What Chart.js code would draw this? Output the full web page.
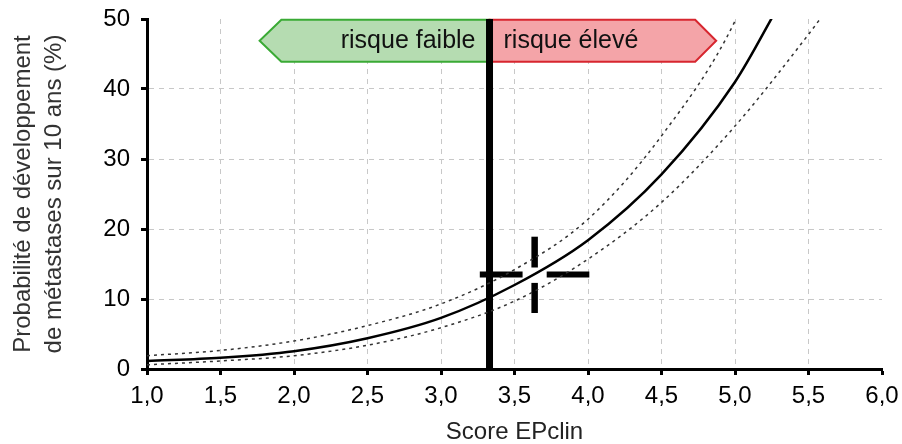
<!DOCTYPE html>
<html>
<head>
<meta charset="utf-8">
<script src="https://cdn.jsdelivr.net/npm/chart.js@4.4.1/dist/chart.umd.min.js"></script>
<style>
  html, body { margin: 0; padding: 0; background: #fff; }
  #wrap { width: 902px; height: 444px; }
</style>
</head>
<body>
<div id="wrap"><canvas id="c" width="902" height="444"></canvas></div>
<script>
// valeurs
let xTicks = ["1,0","1,5","2,0","2,5","3,0","3,5","4,0","4,5","5,0","5,5","6,0"];
let yTicks = ["0","10","20","30","40","50"];

let solidX = [1.0, 1.5, 2.0, 2.5, 3.0, 3.5, 4.0, 4.5, 5.0, 5.3];
let solidY = [1.15, 1.6, 2.55, 4.4, 7.3, 12.0, 18.4, 27.8, 41.0, 52];

let upperX = [1.0, 1.5, 2.0, 2.5, 3.0, 3.5, 4.0, 4.5, 5.0, 5.1];
let upperY = [1.9, 2.65, 4.0, 6.2, 9.3, 14.2, 21.4, 33.3, 49.7, 55];

let lowerX = [1.0, 1.5, 2.0, 2.5, 3.0, 3.5, 4.0, 4.5, 5.0, 5.5, 5.6];
let lowerY = [0.6, 1.15, 1.9, 3.4, 5.9, 9.7, 15.7, 23.8, 34.7, 47.8, 50.6];

let cutoff = 3.33;            // seuil EPclin
let patient = [3.637, 13.5];  // croix (score, probabilité)
let armH = [[3.264, 3.555], [3.719, 4.009]];
let armV = [[14.5, 18.9], [8.0, 12.3]];

let labels = ["risque faible", "risque élevé"];
let band = {x0: 1.766, x1: 1.914, x2: 4.729, x3: 4.872, y0: 43.9, y1: 49.9};

const FONT = "'Liberation Sans', Arial, Helvetica, sans-serif";

let pts = (xs, ys) => xs.map((x, i) => ({x: x, y: ys[i]}));

let bandPlugin = {
  id: "band",
  beforeDatasetsDraw(chart) {
    let {ctx, scales: {x, y}} = chart;
    let px = v => x.getPixelForValue(v);
    let py = v => y.getPixelForValue(v);
    let top = py(band.y1), bot = py(band.y0), mid = (top + bot) / 2;
    let c = px(cutoff);
    ctx.save();
    ctx.lineWidth = 2;
    ctx.lineJoin = "miter";
    // gauche vert
    ctx.beginPath();
    ctx.moveTo(c, top);
    ctx.lineTo(px(band.x1), top);
    ctx.lineTo(px(band.x0), mid);
    ctx.lineTo(px(band.x1), bot);
    ctx.lineTo(c, bot);
    ctx.closePath();
    ctx.fillStyle = "#b5dcb1";
    ctx.strokeStyle = "#3aaa35";
    ctx.fill(); ctx.stroke();
    // droite rouge
    ctx.beginPath();
    ctx.moveTo(c, top);
    ctx.lineTo(px(band.x2), top);
    ctx.lineTo(px(band.x3), mid);
    ctx.lineTo(px(band.x2), bot);
    ctx.lineTo(c, bot);
    ctx.closePath();
    ctx.fillStyle = "#f4a4a8";
    ctx.strokeStyle = "#d7262f";
    ctx.fill(); ctx.stroke();
    ctx.fillStyle = "#111";
    ctx.font = "25px " + FONT;
    ctx.textBaseline = "middle";
    ctx.textAlign = "right";
    ctx.fillText(labels[0], c - 14, mid);
    ctx.textAlign = "left";
    ctx.fillText(labels[1], c + 14, mid);
    ctx.restore();
  }
};

let line = (data, w, color, dash) => ({
  data: data, borderColor: color, borderWidth: w, borderDash: dash || [],
  pointRadius: 0, fill: false, cubicInterpolationMode: "monotone", borderCapStyle: "butt"
});

let ds = [
  line(pts(lowerX, lowerY), 1.5, "#333", [3, 4]),
  line(pts(upperX, upperY), 1.5, "#333", [3, 4]),
  line(pts(solidX, solidY), 2.5, "#000"),
  line([{x: cutoff, y: 0}, {x: cutoff, y: 50}], 7, "#000"),
  line([{x: armH[0][0], y: patient[1]}, {x: armH[0][1], y: patient[1]}], 6, "#000"),
  line([{x: armH[1][0], y: patient[1]}, {x: armH[1][1], y: patient[1]}], 6, "#000"),
  line([{x: patient[0], y: armV[0][0]}, {x: patient[0], y: armV[0][1]}], 6.5, "#000"),
  line([{x: patient[0], y: armV[1][0]}, {x: patient[0], y: armV[1][1]}], 6.5, "#000")
];

new Chart(document.getElementById("c"), {
  type: "line",
  data: {datasets: ds},
  plugins: [bandPlugin],
  options: {
    responsive: false,
    animation: false,
    layout: {padding: {top: 19, right: 20, bottom: 0, left: 0}},
    plugins: {legend: {display: false}, tooltip: {enabled: false}},
    scales: {
      x: {
        type: "linear", min: 1, max: 6,
        afterBuildTicks: s => { s.ticks = xTicks.map((_, i) => ({value: 1 + i * 0.5})); },
        afterFit: s => { s.height = 75; s.paddingLeft = 0; s.paddingRight = 0; },
        ticks: {
          callback: (v, i) => xTicks[i], color: "#000", padding: 7,
          font: {family: FONT, size: 24}, maxRotation: 0, autoSkip: false
        },
        grid: {
          color: c => c.tick && c.tick.value >= 6 ? "rgba(0,0,0,0)" : "#c8c8c8",
          lineWidth: 1, tickColor: "#000", tickWidth: 3, tickLength: 6, tickBorderDash: []
        },
        border: {color: "#000", width: 3, dash: [5, 5]},
        title: {
          display: true, text: "Score EPclin", color: "#222",
          font: {family: FONT, size: 24, lineHeight: 1}, padding: 0
        }
      },
      y: {
        min: 0, max: 50,
        afterBuildTicks: s => { s.ticks = yTicks.map(t => ({value: +t})); },
        afterFit: s => { s.width = 147; s.paddingTop = 0; s.paddingBottom = 0; },
        ticks: {
          callback: (v, i) => yTicks[i], color: "#000", padding: 11,
          font: {family: FONT, size: 24}
        },
        grid: {
          color: c => c.tick && c.tick.value >= 50 ? "rgba(0,0,0,0)" : "#c8c8c8",
          lineWidth: 1, tickColor: "#000", tickWidth: 3, tickLength: 6, tickBorderDash: []
        },
        border: {color: "#000", width: 3, dash: [5, 5]},
        title: {
          display: true, text: ["Probabilité de développement", "de métastases sur 10 ans (%)"],
          color: "#333", font: {family: FONT, size: 24, lineHeight: 1.3}, padding: {top: 8, bottom: 0}
        }
      }
    }
  }
});
</script>
</body>
</html>
